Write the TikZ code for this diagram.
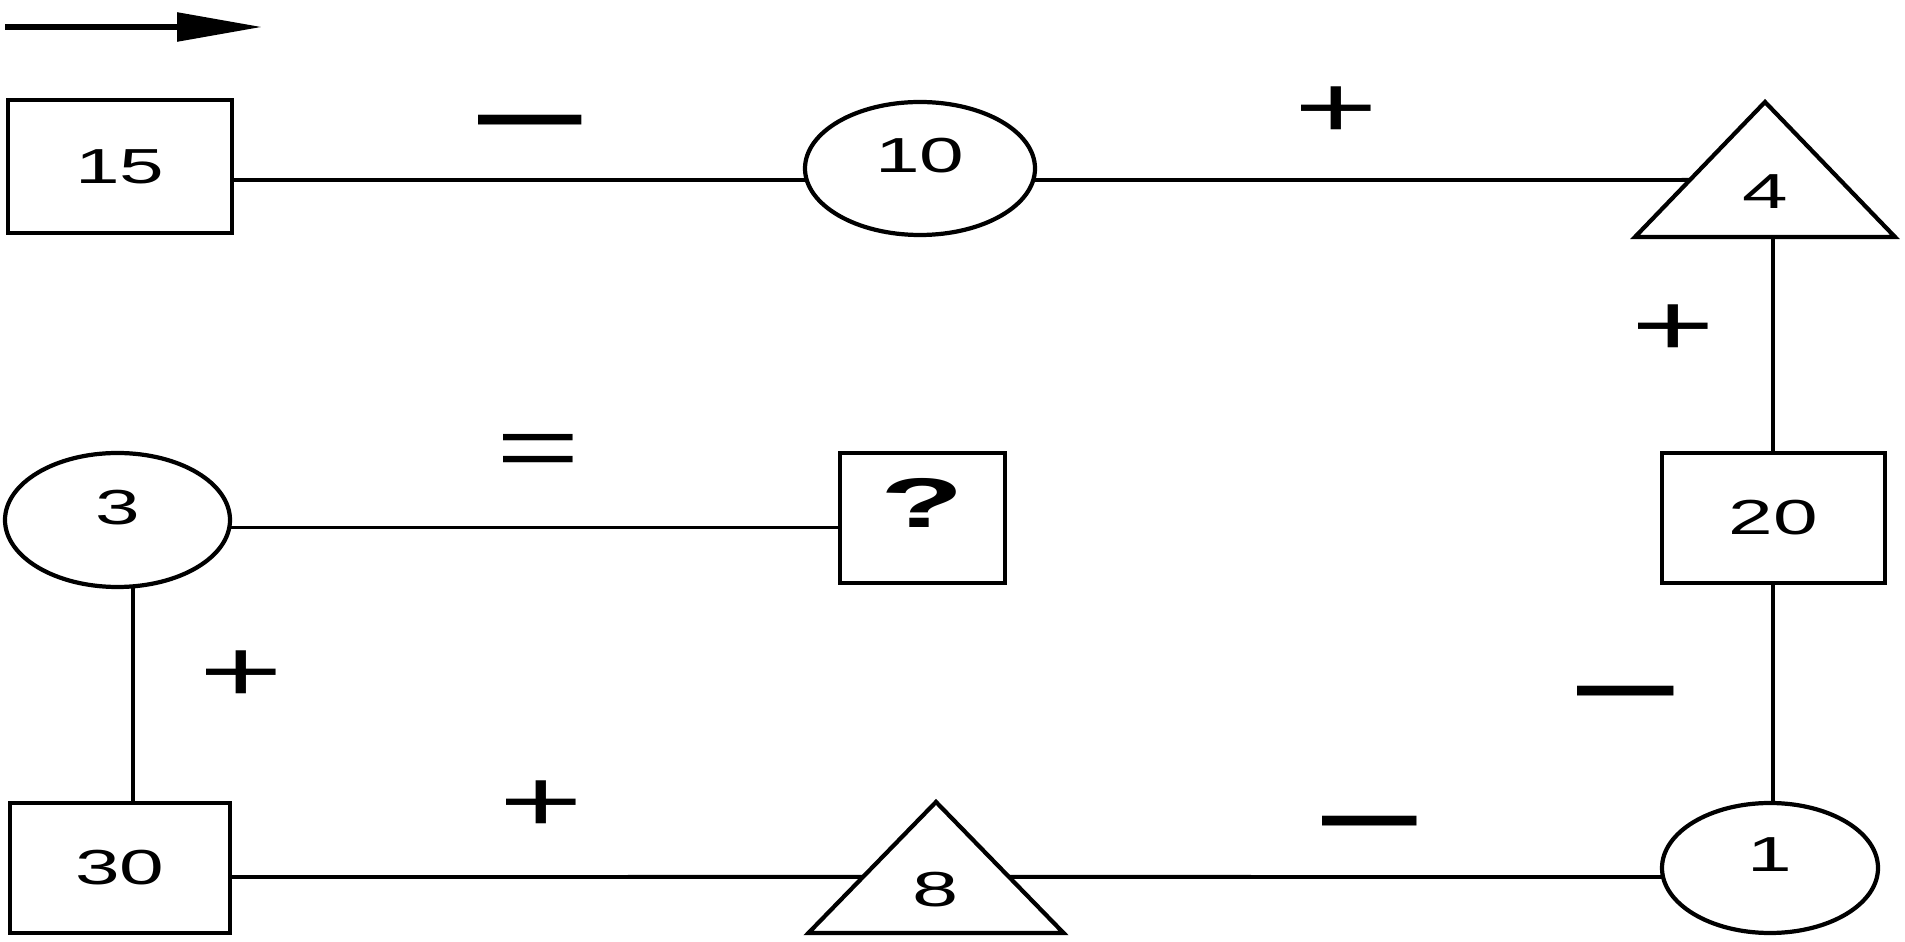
\documentclass[tikz,border=0pt]{standalone}
\usepackage{fontspec}
\usepackage{graphicx}
\setmainfont{Liberation Sans}
\usetikzlibrary{arrows.meta,calc,positioning,shapes.geometric}
\newcommand{\ancho}[1]{\scalebox{1.63}[1]{#1}}
\tikzset{
  caja/.style={
    rectangle,
    draw,
    line width=1.2pt,
    inner sep=0pt,
    outer sep=0pt,
    font=\fontsize{14}{17}\selectfont
  },
  bola/.style={
    ellipse,
    draw,
    line width=1.2pt,
    inner sep=0pt,
    outer sep=0pt,
    text depth=2.6mm,
    font=\fontsize{14}{17}\selectfont
  },
  tri/.style={
    regular polygon,
    regular polygon sides=3,
    draw,
    line width=1.2pt,
    inner sep=0pt,
    outer sep=0pt,
    font=\fontsize{14}{17}\selectfont
  },
  signo/.style={
    inner sep=0pt,
    font=\fontsize{25}{30}\selectfont
  },
  raya/.style={
    inner sep=0pt,
    font=\bfseries\fontsize{28}{32}\selectfont
  },
  enlace/.style={
    line width=1.1pt
  },
  flecha/.style={
    -{Triangle[length=8.5mm,width=2.8mm]},
    line width=1.6pt
  }
}

\begin{document}
\begin{tikzpicture}
\useasboundingbox (0,0) rectangle (19.05,-9.42);
% ejes de las lineas
\coordinate (fila1) at (0,-1.80);
\coordinate (fila2) at (0,-5.275);
\coordinate (fila3) at (0,-8.77);
\coordinate (col1) at (1.33,0);
\coordinate (col2) at (17.73,0);
% flecha de sentido
\coordinate (iniF) at (0.05,-0.27);
\coordinate (finF) at (2.62,-0.27);
\draw[flecha] (iniF) -- (finF);
% figuras
\node[caja,minimum width=2.24cm,minimum height=1.33cm] (n15) at (1.20,-1.665) {\ancho{15}};
\node[bola,minimum width=2.30cm,minimum height=1.33cm] (n10) at (9.20,-1.685) {\ancho{10}};
\node[tri,minimum size=1.80cm,xscale=1.668] (n4) at (17.65,-1.92) {4};
\node[bola,minimum width=2.25cm,minimum height=1.34cm] (n3) at (1.175,-5.20) {\ancho{3}};
\node[caja,minimum width=1.65cm,minimum height=1.30cm,text depth=3mm,font=\bfseries\fontsize{20}{24}\selectfont] (nq) at (9.225,-5.18) {\scalebox{1.95}[1]{?}};
\node[caja,minimum width=2.23cm,minimum height=1.30cm] (n20) at (17.735,-5.18) {\ancho{20}};
\node[caja,minimum width=2.20cm,minimum height=1.30cm] (n30) at (1.20,-8.68) {\ancho{30}};
\node[tri,minimum size=1.747cm,xscale=1.686] (n8) at (9.36,-8.893) {8};
\node[bola,minimum width=2.16cm,minimum height=1.30cm] (n1) at (17.70,-8.68) {\ancho{1}};
% lineas
\draw[enlace] (n15.east |- fila1) -- (n10.west |- fila1);
\draw[enlace] (n10.east |- fila1) -- (n4.165);
\draw[enlace] (n3.east |- fila2) -- (nq.west |- fila2);
\draw[enlace] (n30.east |- fila3) -- (n8.164);
\draw[enlace] (n8.16) -- (n1.west |- fila3);
\draw[enlace] (n3.south -| col1) -- (n30.north -| col1);
\draw[enlace] (n4.south -| col2) -- (n20.north -| col2);
\draw[enlace] (n20.south -| col2) -- (n1.north -| col2);
% signos
\node[raya] (m1) at (5.30,-1.31) {\scalebox{1.05}[1]{—}};
\node[signo] (p1) at (13.36,-1.125) {\ancho{+}};
\node[signo] (p2) at (16.73,-3.305) {\ancho{+}};
\node[signo] (eq) at (5.38,-4.56) {\ancho{=}};
\node[signo] (p3) at (2.41,-6.765) {\ancho{+}};
\node[signo] (p4) at (5.41,-8.065) {\ancho{+}};
\node[raya] (m2) at (13.70,-8.32) {\scalebox{0.96}[1]{—}};
\node[raya] (m3) at (16.26,-7.02) {\scalebox{0.98}[1]{—}};
\end{tikzpicture}
\end{document}
